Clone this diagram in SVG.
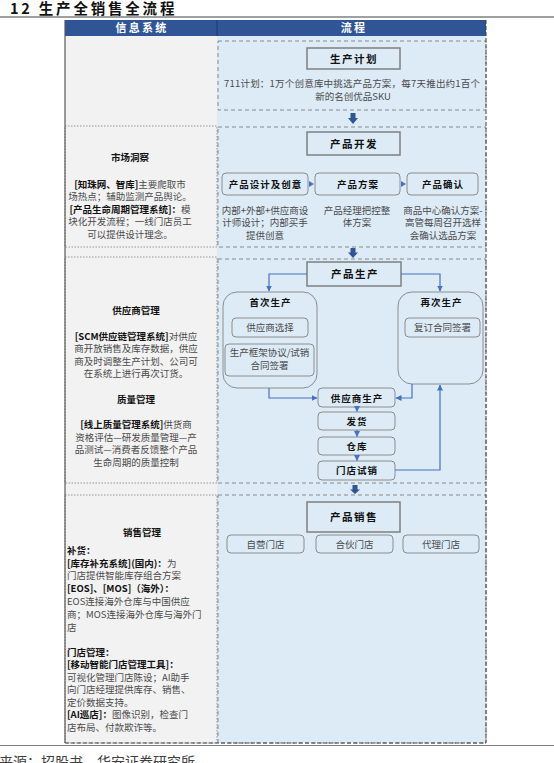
<svg xmlns="http://www.w3.org/2000/svg" width="554" height="763" viewBox="0 0 554 763">
<style>
text{font-family:"Noto Sans CJK SC","Noto Sans",sans-serif;}
.n{font-size:9.5px;fill:#4a4a4a;}
.b{font-weight:bold;fill:#111;}
.c{text-anchor:middle;}
.h{font-size:11px;font-weight:bold;fill:#fff;letter-spacing:2.2px;text-anchor:middle;}
.bt{font-size:10.5px;font-weight:bold;fill:#111;letter-spacing:1.5px;text-anchor:middle;}
.st{font-size:9.5px;font-weight:bold;fill:#111;letter-spacing:1px;text-anchor:middle;}
.sq{fill:#DDEBF7;stroke:#808080;stroke-width:1.5;}
.rb{fill:#DDEBF7;stroke:#8c8c8c;stroke-width:1;}
.ld{fill:#F2F2F2;stroke:#808080;stroke-width:0.8;stroke-dasharray:1.5 1.5;}
.rd{fill:none;stroke:#7f7f7f;stroke-width:0.9;stroke-dasharray:4 3;}
.cn{fill:none;stroke:#4472C4;stroke-width:1.2;}
.ba{fill:#2F5597;}
</style>
<defs>
<marker id="ah" markerWidth="6" markerHeight="6" refX="5.5" refY="3" orient="auto" markerUnits="userSpaceOnUse">
<path d="M0,0 L6,3 L0,6 z" fill="#4472C4"/>
</marker>
</defs>

<!-- title -->
<text x="10" y="14" style="font-size:14.5px;font-weight:bold;fill:#111;letter-spacing:2.8px;">12 生产全销售全流程</text>
<line x1="0" y1="17" x2="554" y2="17" stroke="#404040" stroke-width="1.2"/>

<!-- table backgrounds -->
<rect x="65" y="36" width="152" height="707" fill="#F2F2F2"/>
<rect x="217" y="36" width="269" height="707" fill="#DDEBF7"/>
<rect x="65" y="20" width="421" height="16" fill="#2F5597"/>
<line x1="217" y1="20" x2="217" y2="36" stroke="#1f3864" stroke-width="1"/>
<text class="h" x="142" y="32">信息系统</text>
<text class="h" x="354" y="32">流程</text>

<!-- left column sections -->
<g id="left-sections">
<rect class="ld" x="65" y="126" width="152" height="121"/>
<rect class="ld" x="65" y="257" width="152" height="226"/>
<rect class="ld" x="65" y="495" width="152" height="248"/>
</g>
<!-- right column sections -->
<g id="right-sections">
<rect class="rd" x="218" y="41" width="268" height="69"/>
<rect class="rd" x="218" y="127" width="268" height="120"/>
<rect class="rd" x="218" y="259" width="268" height="224"/>
<rect class="rd" x="218" y="495" width="268" height="248"/>
</g>
<!-- outer border -->
<line x1="65" y1="20" x2="65" y2="743" stroke="#595959" stroke-width="1.2"/>
<line x1="486" y1="20" x2="486" y2="743" stroke="#404040" stroke-width="1" stroke-dasharray="4 2"/>
<line x1="65" y1="743" x2="486" y2="743" stroke="#404040" stroke-width="1" stroke-dasharray="4 2"/>

<!-- left texts -->
<g id="info-market">
<text class="n b c" x="130" y="161">市场洞察</text>
<text class="n c" x="130" y="187.5"><tspan class="b">[知珠网、智库]</tspan>主要爬取市</text>
<text class="n c" x="130" y="200">场热点；辅助监测产品舆论。</text>
<text class="n c" x="130" y="212.5"><tspan class="b">[产品生命周期管理系统]：</tspan>模</text>
<text class="n c" x="130" y="225">块化开发流程；一线门店员工</text>
<text class="n c" x="130" y="237.5">可以提供设计理念。</text>
</g>
<g id="info-supplier">
<text class="n b c" x="136" y="313.5">供应商管理</text>
<text class="n c" x="136" y="339.5"><tspan class="b">[SCM供应链管理系统]</tspan>对供应</text>
<text class="n c" x="136" y="352">商开放销售及库存数据，供应</text>
<text class="n c" x="136" y="364.5">商及时调整生产计划、公司可</text>
<text class="n c" x="136" y="377">在系统上进行再次订货。</text>
<text class="n b c" x="136" y="402.5">质量管理</text>
<text class="n c" x="136" y="428"><tspan class="b">[线上质量管理系统]</tspan>供货商</text>
<text class="n c" x="136" y="440.5">资格评估—研发质量管理—产</text>
<text class="n c" x="136" y="453">品测试—消费者反馈整个产品</text>
<text class="n c" x="136" y="466">生命周期的质量控制</text>
</g>
<g id="info-sales">
<text class="n b c" x="142" y="535.5">销售管理</text>
<text class="n b" x="67" y="553.5">补货：</text>
<text class="n" x="67" y="566.5"><tspan class="b">[库存补充系统](国内)：</tspan>为</text>
<text class="n" x="67" y="579">门店提供智能库存组合方案</text>
<text class="n b" x="67" y="592">[EOS]、[MOS]（海外）：</text>
<text class="n" x="67" y="605">EOS连接海外仓库与中国供应</text>
<text class="n" x="67" y="617.5">商；MOS连接海外仓库与海外门</text>
<text class="n" x="67" y="630.5">店</text>
<text class="n b" x="67" y="655.5">门店管理：</text>
<text class="n b" x="67" y="668">[移动智能门店管理工具]：</text>
<text class="n" x="67" y="680.5">可视化管理门店陈设；AI助手</text>
<text class="n" x="67" y="693">向门店经理提供库存、销售、</text>
<text class="n" x="67" y="705.5">定价数据支持。</text>
<text class="n" x="67" y="718"><tspan class="b">[AI巡店]：</tspan>图像识别，检查门</text>
<text class="n" x="67" y="730.5">店布局、付款欺诈等。</text>
</g>

<!-- section 1 -->
<g id="plan">
<rect class="sq" x="307" y="48" width="93" height="21"/>
<text class="bt" x="354" y="62.5">生产计划</text>
<text class="n c" x="352" y="87" textLength="256" lengthAdjust="spacing">711计划：1万个创意库中挑选产品方案，每7天推出约1百个</text>
<text class="n c" x="353" y="100">新的名创优品SKU</text>
</g>

<!-- section 2 -->
<g id="dev">
<rect class="sq" x="307" y="132" width="93" height="23"/>
<text class="bt" x="354" y="148">产品开发</text>
</g>
<g id="design">
<rect class="rb" x="222" y="173" width="86" height="22" rx="4"/>
<text class="st" x="265.5" y="188">产品设计及创意</text>
<text class="n c" x="265" y="213.5">内部+外部+供应商设</text>
<text class="n c" x="265" y="226">计师设计；内部买手</text>
<text class="n c" x="265" y="238.5">提供创意</text>
</g>
<g id="scheme">
<rect class="rb" x="315" y="173" width="85" height="22" rx="4"/>
<text class="st" x="358" y="188">产品方案</text>
<text class="n c" x="357" y="213.5">产品经理把控整</text>
<text class="n c" x="357" y="226">体方案</text>
</g>
<g id="confirm">
<rect class="rb" x="407" y="173" width="71" height="22" rx="4"/>
<text class="st" x="443" y="188">产品确认</text>
<text class="n c" x="443" y="213.5">商品中心确认方案-</text>
<text class="n c" x="443" y="226">高管每周召开选样</text>
<text class="n c" x="443" y="238.5">会确认选品方案</text>
</g>

<!-- section 3 -->
<g id="production">
<rect class="sq" x="307" y="262" width="94" height="24"/>
<text class="bt" x="355" y="278">产品生产</text>
</g>
<g id="first">
<rect class="rb" x="223" y="292" width="94" height="96" rx="14"/>
<text class="st" x="270.5" y="305.5">首次生产</text>
<rect class="rb" x="232" y="318" width="76" height="19" rx="4"/>
<text class="n c" x="270" y="331">供应商选择</text>
<rect class="rb" x="225" y="344" width="89" height="32" rx="4"/>
<text class="n c" x="269.5" y="355.5">生产框架协议/试销</text>
<text class="n c" x="269.5" y="369">合同签署</text>
</g>
<g id="second">
<rect class="rb" x="398" y="292" width="85" height="92" rx="14"/>
<text class="st" x="441.5" y="305.5">再次生产</text>
<rect class="rb" x="405" y="318" width="75" height="19" rx="4"/>
<text class="n c" x="442.5" y="331">复订合同签署</text>
</g>
<g id="supplier-prod">
<rect class="rb" x="318" y="388" width="77" height="19" rx="4"/>
<text class="st" x="357" y="401.5">供应商生产</text>
</g>
<g id="ship">
<rect class="rb" x="318" y="412" width="77" height="18" rx="4"/>
<text class="st" x="357" y="424.5">发货</text>
</g>
<g id="warehouse">
<rect class="rb" x="318" y="437" width="77" height="18" rx="4"/>
<text class="st" x="357" y="449.5">仓库</text>
</g>
<g id="trial">
<rect class="rb" x="318" y="461" width="77" height="19" rx="4"/>
<text class="st" x="357" y="474">门店试销</text>
</g>

<!-- section 4 -->
<g id="sales">
<rect class="sq" x="307" y="502" width="93" height="30"/>
<text class="bt" x="354" y="521">产品销售</text>
</g>
<g id="own">
<rect class="rb" x="227" y="535" width="77" height="18" rx="4"/>
<text class="n c" x="265.5" y="547.5">自营门店</text>
</g>
<g id="partner">
<rect class="rb" x="316" y="535" width="77" height="18" rx="4"/>
<text class="n c" x="354.5" y="547.5">合伙门店</text>
</g>
<g id="agent">
<rect class="rb" x="403" y="535" width="76" height="18" rx="4"/>
<text class="n c" x="441" y="547.5">代理门店</text>
</g>

<!-- connectors -->
<g id="connectors">
<polygon class="ba" points="350.5,113 355.5,113 355.5,118 358,118 353,124 348,118 350.5,118"/>
<polygon class="ba" points="350.5,248 355.5,248 355.5,252.5 358,252.5 353,258 348,252.5 350.5,252.5"/>
<polygon class="ba" points="352.5,485 357.5,485 357.5,489.5 360,489.5 355,494 350,489.5 352.5,489.5"/>
<polygon points="309,181 314,184 309,187" fill="#4472C4"/>
<polygon points="401,181 406,184 401,187" fill="#4472C4"/>
<polyline class="cn" points="307,274 269,274 269,291" marker-end="url(#ah)"/>
<polyline class="cn" points="401,274 440,274 440,291" marker-end="url(#ah)"/>
<polyline class="cn" points="269,388 269,398 317,398" marker-end="url(#ah)"/>
<polyline class="cn" points="412,384 412,398 396,398" marker-end="url(#ah)"/>
<line class="cn" x1="357" y1="407" x2="357" y2="411.5" marker-end="url(#ah)"/>
<line class="cn" x1="357" y1="430" x2="357" y2="436.5" marker-end="url(#ah)"/>
<line class="cn" x1="357" y1="455" x2="357" y2="460.5" marker-end="url(#ah)"/>
<polyline class="cn" points="395,470 440,470 440,385" marker-end="url(#ah)"/>
</g>

<!-- footer -->
<line x1="0" y1="745.5" x2="554" y2="745.5" stroke="#7f7f7f" stroke-width="1.2"/>
<text x="-1" y="767" style="font-size:14px;fill:#404040;">来源：招股书，华安证券研究所</text>
</svg>
